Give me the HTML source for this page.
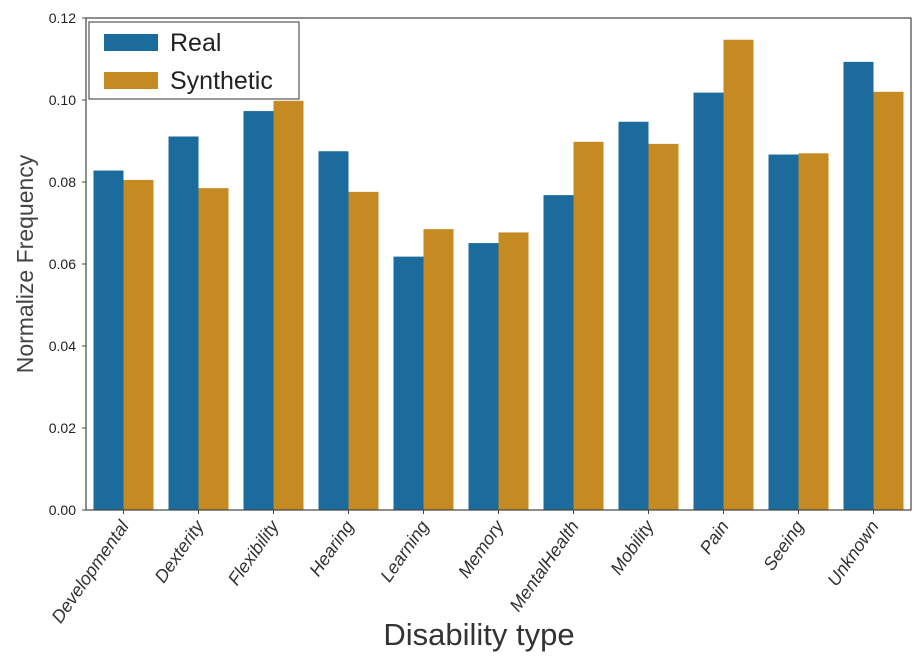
<!DOCTYPE html>
<html><head><meta charset="utf-8"><style>
body{margin:0;background:#fff;}
svg{display:block;font-family:"Liberation Sans","DejaVu Sans",sans-serif;}
</style></head><body>
<svg id="chart" width="914" height="658"></svg>
<script>
const categories=["Developmental","Dexterity","Flexibility","Hearing","Learning","Memory","MentalHealth","Mobility","Pain","Seeing","Unknown"];
const realValues=[0.0828,0.0911,0.0973,0.0875,0.0618,0.0651,0.0768,0.0947,0.1018,0.0867,0.1093];
const synthValues=[0.0805,0.0785,0.0998,0.0776,0.0685,0.0677,0.0898,0.0893,0.1147,0.0870,0.1020];
const yTicks=[0,0.02,0.04,0.06,0.08,0.10,0.12];
const yTickLabels=["0.00","0.02","0.04","0.06","0.08","0.10","0.12"];

const NS="http://www.w3.org/2000/svg";
const svg=document.getElementById('chart');
const L=86,R=911,T=18,B=510,YMAX=0.12;
const band=(R-L)/categories.length;
function y(v){return B-(v/YMAX)*(B-T);}
function x(i){return L+i*band;}
function mk(t,a,p){const e=document.createElementNS(NS,t);for(const k in a)e.setAttribute(k,a[k]);(p||svg).appendChild(e);return e;}

const bw=band*0.4;
categories.forEach((c,i)=>{
  const x0=x(i)+band*0.1;
  const r=mk('rect',{x:x0,y:y(realValues[i]),width:bw,height:B-y(realValues[i]),fill:'#1b6b9d'});
  
  
  const s=mk('rect',{x:x0+bw,y:y(synthValues[i]),width:bw,height:B-y(synthValues[i]),fill:'#c68a22'});
  
  
  const tx=x(i)+band/2;
  mk('line',{x1:tx,y1:B,x2:tx,y2:B+4,stroke:'#444'});
  const lb=mk('text',{x:0,y:0,transform:`translate(${tx+6},${B+16}) rotate(-55)`,'text-anchor':'end','font-size':18,'font-style':'italic',fill:'#333'});
  lb.textContent=c;
  
  
});
yTicks.forEach((v,i)=>{
  mk('line',{x1:L-4,y1:y(v),x2:L,y2:y(v),stroke:'#444'});
  const t=mk('text',{x:L-10,y:y(v)+5,'text-anchor':'end','font-size':14,fill:'#222'});
  t.textContent=yTickLabels[i];
  
  
});
const fr=mk('rect',{x:L,y:T,width:R-L,height:B-T,fill:'none',stroke:'#444','stroke-width':1.2});



const yt=mk('text',{x:0,y:0,transform:'translate(33,264) rotate(-90)','text-anchor':'middle','font-size':23,fill:'#444'});
yt.textContent='Normalize Frequency';


const xt=mk('text',{x:479,y:645,'text-anchor':'middle','font-size':31,fill:'#333'});
xt.textContent='Disability type';



const lg=mk('g',{});


mk('rect',{x:89,y:22,width:210,height:77,fill:'#fff',stroke:'#555','stroke-width':1.2},lg);
mk('rect',{x:104,y:34,width:54,height:17,fill:'#1b6b9d'},lg);
mk('rect',{x:104,y:72,width:54,height:17,fill:'#c68a22'},lg);
const t1=mk('text',{x:170,y:51,'font-size':25,fill:'#222'},lg);t1.textContent='Real';


const t2=mk('text',{x:170,y:89,'font-size':25,fill:'#222'},lg);t2.textContent='Synthetic';


</script>
</body></html>
